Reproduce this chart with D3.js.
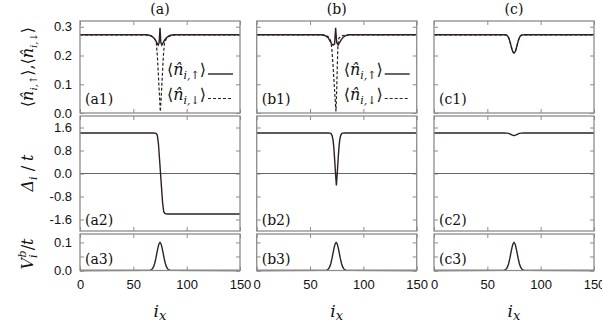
<!DOCTYPE html>
<html><head><meta charset="utf-8">
<script src="https://cdn.jsdelivr.net/npm/d3@7"></script>
<style>body{margin:0;background:#fff}</style>
</head><body><svg id="c" width="602" height="325"></svg>
<script>
// ---------- data ----------
const columns = ["a", "b", "c"];
const ixTicks = [0, 50, 100, 150];
const densTicks = [0, 0.1, 0.2, 0.3];
const densLabels = ["0.0", "0.1", "0.2", "0.3"];
const gapTicks = [-1.6, -0.8, 0, 0.8, 1.6];
const gapLabels = ["-1.6", "-0.8", "0.0", "0.8", "1.6"];
const potTicks = [0, 0.05, 0.1];
const potLabels = ["0.0", "", "0.1"];

// <n_up>, <n_down>  (pairs: site i_x, value)
const upA = [[0,.272],[62,.272],[65,.2705],[67,.2675],[69,.262],[70.5,.255],[72,.245],[73.3,.236],[74.2,.245],[75,.296],[75.8,.245],[76.7,.236],[78,.245],[79.5,.255],[81,.262],[83,.2675],[85,.2705],[88,.272],[150,.272]];
const downA = [[0,.272],[62,.272],[65,.2705],[67,.2675],[69,.262],[70.5,.255],[71.5,.245],[72.5,.2],[73.5,.13],[74.5,.06],[75.3,.005],[76.2,.06],[77.2,.13],[78.2,.2],[79.2,.245],[80.5,.255],[82,.262],[84,.2675],[86,.2705],[89,.272],[150,.272]];
const upB = [[0,.272],[60,.272],[63,.2705],[65,.2675],[67,.262],[68.5,.252],[70,.242],[71.5,.236],[73,.24],[74,.296],[75,.245],[76.3,.236],[77.7,.245],[79.3,.255],[81,.263],[83,.2685],[86,.272],[150,.272]];
const downB = [[0,.272],[61,.272],[64,.2705],[66,.2675],[68,.262],[69.5,.25],[70.5,.22],[71.5,.17],[72.5,.11],[73.5,.05],[74.3,.005],[75,.08],[75.6,.17],[76.2,.24],[77,.26],[79,.2675],[82,.2705],[86,.272],[150,.272]];
const upC = [[0,.272],[65,.272],[67,.2717],[68,.2707],[69,.268],[70,.262],[71,.251],[72,.237],[73,.2225],[74,.2125],[75,.209],[76,.2125],[77,.2225],[78,.237],[79,.251],[80,.262],[81,.268],[82,.2707],[83,.2717],[85,.272],[150,.272]];
const downC = [[0,.272],[65,.272],[67,.2717],[68,.2707],[69,.268],[70,.262],[71,.251],[72,.237],[73,.2225],[74,.2125],[75,.209],[76,.2125],[77,.2225],[78,.237],[79,.251],[80,.262],[81,.268],[82,.2707],[83,.2717],[85,.272],[150,.272]];

// Delta_i / t
const gapA = [[0,1.41],[69,1.41],[70.5,1.405],[71.5,1.39],[72.5,1.33],[73.5,1.05],[74.5,.53],[75.5,0],[76.5,-.53],[77.5,-1.05],[78.5,-1.33],[79.5,-1.39],[80.5,-1.405],[82,-1.41],[150,-1.41]];
const gapB = [[0,1.41],[67.2,1.41],[68.7,1.405],[69.7,1.39],[70.7,1.32],[71.6,1.16],[72.3,.9],[73.1,.48],[73.9,0],[74.7,-.42],[75.5,0],[76.3,.48],[77.1,.9],[77.8,1.16],[78.7,1.32],[79.7,1.39],[80.7,1.405],[82.2,1.41],[150,1.41]];
const gapC = [[0,1.41],[66,1.41],[68,1.405],[70,1.395],[71,1.38],[72,1.36],[73,1.34],[74,1.325],[75,1.32],[76,1.325],[77,1.34],[78,1.36],[79,1.38],[80,1.395],[82,1.405],[84,1.41],[150,1.41]];

// V_i^b / t
const potA = [[0,0],[65,.0004],[66,.0011],[67,.0029],[68,.0066],[69,.0135],[70,.0249],[71,.0411],[72,.0607],[73,.08],[74,.0946],[75,.1],[76,.0946],[77,.08],[78,.0607],[79,.0411],[80,.0249],[81,.0135],[82,.0066],[83,.0029],[84,.0011],[85,.0004],[150,0]];
const potB = [[0,0],[64.5,.0004],[65.5,.0011],[66.5,.0029],[67.5,.0066],[68.5,.0135],[69.5,.0249],[70.5,.0411],[71.5,.0607],[72.5,.08],[73.5,.0946],[74.5,.1],[75.5,.0946],[76.5,.08],[77.5,.0607],[78.5,.0411],[79.5,.0249],[80.5,.0135],[81.5,.0066],[82.5,.0029],[83.5,.0011],[84.5,.0004],[150,0]];
const potC = [[0,0],[65,.0004],[66,.0011],[67,.0029],[68,.0066],[69,.0135],[70,.0249],[71,.0411],[72,.0607],[73,.08],[74,.0946],[75,.1],[76,.0946],[77,.08],[78,.0607],[79,.0411],[80,.0249],[81,.0135],[82,.0066],[83,.0029],[84,.0011],[85,.0004],[150,0]];

// ---------- layout ----------
const series = {
  a: {up: upA, down: downA, gap: gapA, pot: potA, legend: true},
  b: {up: upB, down: downB, gap: gapB, pot: potB, legend: true},
  c: {up: upC, down: downC, gap: gapC, pot: potC, legend: false}
};
const colX = {a: [80, 240], b: [256.7, 416.7], c: [434, 594]};
const rows = [
  {key: "dens", domain: [0, 0.32], range: [113, 21], ticks: densTicks, labels: densLabels, tag: "1", tagY: 104},
  {key: "gap", domain: [-2, 2], range: [231, 116], ticks: gapTicks, labels: gapLabels, tag: "2", tagY: 225},
  {key: "pot", domain: [0, 0.13], range: [270.5, 234], ticks: potTicks, labels: potLabels, tag: "3", tagY: 264}
];
const frameCol = "#8c8c8c";
const curveCol = "#2e2020";
const serif = "DejaVu Serif";
const sans = "Liberation Sans";

const svg = d3.select("#c");
svg.append("rect").attr("width", 602).attr("height", 325).attr("fill", "#fff");

function styleAxis(g) {
  g.select(".domain").remove();
  g.selectAll(".tick line").attr("stroke", frameCol).attr("stroke-width", 1);
  g.selectAll(".tick text").attr("fill", "#111").attr("font-family", sans).attr("font-size", 13);
}

function richText(sel, parts) {
  parts.forEach(p => {
    const t = sel.append("tspan").text(p.t);
    if (p.dy) t.attr("dy", p.dy);
    if (p.dx) t.attr("dx", p.dx);
    if (p.size) t.attr("font-size", p.size);
    if (p.italic) t.attr("font-style", "italic");
  });
}
const nUpParts = [
  {t: "\u27E8"}, {t: "n\u0302", italic: true}, {t: "i,\u2191", size: 11, italic: true, dy: 4},
  {t: "\u27E9", dy: -4}
];
const nDnParts = [
  {t: "\u27E8"}, {t: "n\u0302", italic: true}, {t: "i,\u2193", size: 11, italic: true, dy: 4},
  {t: "\u27E9", dy: -4}
];

columns.forEach(c => {
  const [x0, x1] = colX[c];
  const x = d3.scaleLinear().domain([0, 150]).range([x0, x1]);
  const s = series[c];

  svg.append("text").attr("x", (x0 + x1) / 2).attr("y", 14).attr("text-anchor", "middle")
    .attr("font-family", serif).attr("font-size", 14).attr("fill", "#111").text("(" + c + ")");

  rows.forEach((r, ri) => {
    const y = d3.scaleLinear().domain(r.domain).range(r.range);
    const yb = r.range[0], yt = r.range[1];
    const g = svg.append("g");

    g.append("g").attr("transform", `translate(${x0},0)`)
      .call(d3.axisLeft(y).tickValues(r.ticks).tickSizeInner(-4).tickSizeOuter(0).tickPadding(8)
        .tickFormat((d, i) => c === "a" ? r.labels[i] : ""))
      .call(styleAxis);
    g.append("g").attr("transform", `translate(${x1},0)`)
      .call(d3.axisRight(y).tickValues(r.ticks).tickSizeInner(-4).tickSizeOuter(0).tickFormat(""))
      .call(styleAxis);
    g.append("g").attr("transform", `translate(0,${yt})`)
      .call(d3.axisTop(x).tickValues(ixTicks).tickSizeInner(-4).tickSizeOuter(0).tickFormat(""))
      .call(styleAxis);
    g.append("g").attr("transform", `translate(0,${yb})`)
      .call(d3.axisBottom(x).tickValues(ixTicks).tickSizeInner(-4).tickSizeOuter(0).tickPadding(9)
        .tickFormat(d => ri === 2 ? d3.format("d")(d) : ""))
      .call(styleAxis);

    const line = d3.line().x(d => x(d[0])).y(d => y(d[1]));

    if (r.key === "gap") {
      g.append("line").attr("x1", x(0)).attr("x2", x(150)).attr("y1", y(0)).attr("y2", y(0))
        .attr("stroke", "#555").attr("stroke-width", 0.9);
    }
    if (r.key === "dens") {
      g.append("path").datum(s.up).attr("d", line).attr("fill", "none")
        .attr("stroke", curveCol).attr("stroke-width", 1.4);
      g.append("path").datum(s.down).attr("d", line).attr("fill", "none")
        .attr("stroke", curveCol).attr("stroke-width", 1.2).attr("stroke-dasharray", "3,2");
    } else {
      g.append("path").datum(s[r.key]).attr("d", line).attr("fill", "none")
        .attr("stroke", curveCol).attr("stroke-width", 1.4);
    }

    g.append("rect").attr("x", x0).attr("y", yt).attr("width", x1 - x0).attr("height", yb - yt)
      .attr("fill", "none").attr("stroke", frameCol).attr("stroke-width", 1.3);

    g.append("text").attr("x", x0 + 5).attr("y", r.tagY)
      .attr("font-family", serif).attr("font-size", 14).attr("fill", "#111")
      .text("(" + c + r.tag + ")");

    if (r.key === "dens" && s.legend) {
      const lg = g.append("g");
      [[nUpParts, 75, null], [nDnParts, 99.5, "3,2"]].forEach(([parts, yy, dash]) => {
        const t = lg.append("text").attr("x", x0 + 126).attr("y", yy).attr("text-anchor", "end")
          .attr("font-family", serif).attr("font-size", 16).attr("fill", "#111");
        richText(t, parts);
        lg.append("line").attr("x1", x0 + 128).attr("x2", x0 + 153).attr("y1", yy - 1).attr("y2", yy - 1)
          .attr("stroke", curveCol).attr("stroke-width", dash ? 1.2 : 1.4)
          .attr("stroke-dasharray", dash);
      });
    }
  });

  const xt = svg.append("text").attr("x", (x0 + x1) / 2).attr("y", 317).attr("text-anchor", "middle")
    .attr("font-family", serif).attr("font-size", 17).attr("fill", "#111");
  richText(xt, [{t: "i", italic: true}, {t: "x", italic: true, size: 13, dy: 3}]);
});

function yTitle(cx, cy, parts) {
  const t = svg.append("text").attr("transform", `translate(${cx},${cy}) rotate(-90)`)
    .attr("text-anchor", "middle").attr("font-family", serif).attr("font-size", 16).attr("fill", "#111");
  richText(t, parts);
}
yTitle(33, 67, [
  {t: "\u27E8"}, {t: "n\u0302", italic: true}, {t: "i,\u2191", italic: true, size: 10, dy: 4}, {t: "\u27E9", dy: -4}, {t: ","},
  {t: "\u27E8"}, {t: "n\u0302", italic: true}, {t: "i,\u2193", italic: true, size: 10, dy: 4}, {t: "\u27E9", dy: -4}
]);
yTitle(33, 173, [{t: "\u0394", italic: true}, {t: "i", italic: true, size: 11, dy: 4}, {t: " / ", dy: -4}, {t: "t", italic: true}]);
yTitle(33, 254, [{t: "V", italic: true}, {t: "i", italic: true, size: 11, dy: 4}, {t: "b", italic: true, size: 11, dx: -3, dy: -11}, {t: "/", dy: 7}, {t: "t", italic: true}]);
</script>
</body></html>
